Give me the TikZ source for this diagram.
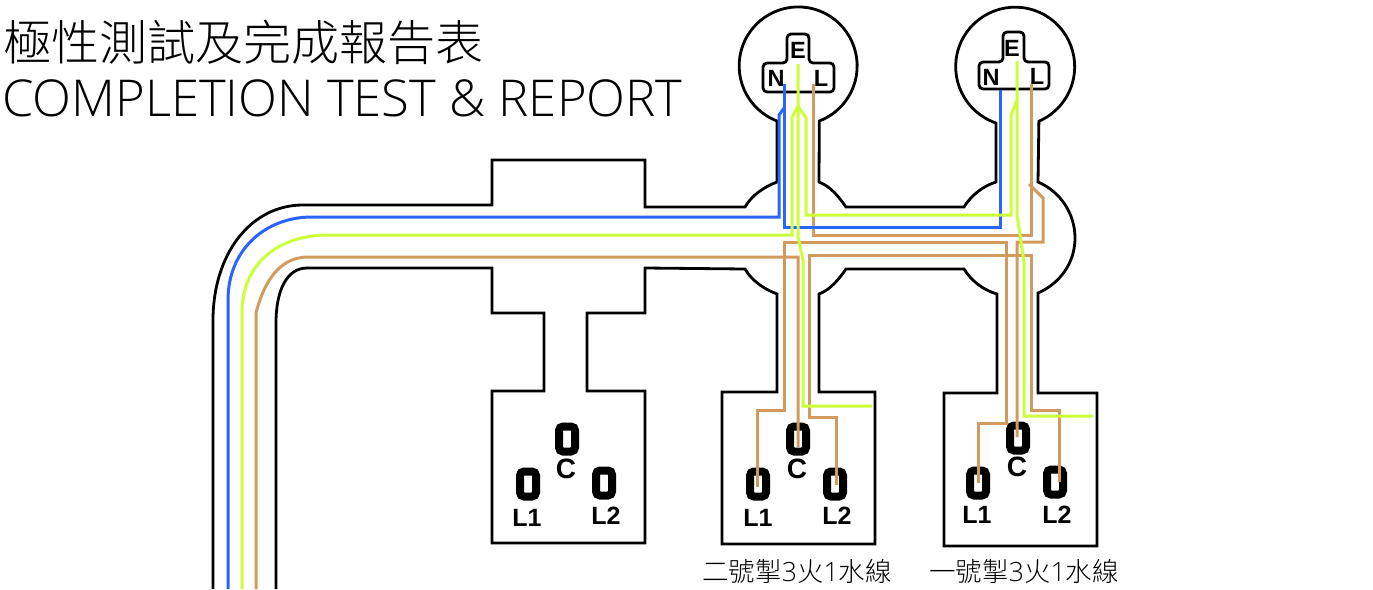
\documentclass[tikz,border=0pt]{standalone}
\usepackage{fontspec}
\setmainfont{Open Sans Light}
\newfontfamily\cjk{Noto Sans CJK TC Light}
\newfontfamily\lat{Open Sans Light}
\newfontfamily\lab[BoldFont={Liberation Sans Bold}]{Liberation Sans}
\definecolor{wblue}{HTML}{2A64FF}
\definecolor{wgreen}{HTML}{CBFF3A}
\definecolor{wbrown}{HTML}{D39A5E}
\tikzset{
  outline/.style={draw=black,line width=2.8pt,line join=miter},
  wire/.style={line width=3pt,line join=miter},
  nwire/.style={wire,draw=wblue},
  ewire/.style={wire,draw=wgreen},
  lwire/.style={wire,draw=wbrown},
  contact/.style={draw=black,line width=8pt,fill=white,rounded corners=4pt,minimum width=16pt,minimum height=25pt,inner sep=0pt,anchor=center},
  pin/.style={font=\lab\fontsize{25}{25}\selectfont\bfseries,inner sep=0pt,anchor=center},
  pinc/.style={font=\lab\fontsize{28}{28}\selectfont\bfseries,inner sep=0pt,anchor=center},
  term/.style={font=\lab\fontsize{23.5}{24}\selectfont\bfseries,inner sep=0pt,anchor=center},
  titlecjk/.style={font=\cjk\fontsize{48}{50}\selectfont,inner sep=0pt,anchor=west},
  titlelat/.style={font=\lat\fontsize{50.8}{54}\selectfont,inner sep=0pt,anchor=west},
  caption/.style={font=\fontsize{26.5}{28}\selectfont,inner sep=0pt,anchor=center}
}
\begin{document}
\begin{tikzpicture}[x=1pt,y=-1pt]
\useasboundingbox (0,0) rectangle (1373,589);
% body outline
\draw[outline] (213,589) -- (213,320) .. controls (213,255) and (250,205) .. (303,205)
 -- (492,205) -- (492,160) -- (645,160) -- (645,207) -- (745,207)
 .. controls (752,195) and (764,187) .. (777,182) -- (777,121)
 arc[start angle=111,end angle=429,radius=59] -- (819,182)
 .. controls (830.5,186.3) and (839,197) .. (846,207) -- (964,207)
 .. controls (971,195.5) and (983,186) .. (996,182) -- (996,123)
 arc[start angle=108.8,end angle=426.5,radius=59.5] -- (1038,182)
 .. controls (1060.4,191.6) and (1075,213.6) .. (1075,238)
 .. controls (1075,262.4) and (1060.4,283.2) .. (1038,293)
 -- (1038,393) -- (1097,393) -- (1097,546) -- (944,546) -- (944,393) -- (997,393) -- (997,294)
 .. controls (983,290) and (971,280.5) .. (964,269) -- (846,269)
 .. controls (839,279) and (830.5,289.7) .. (819,294)
 -- (819,392) -- (875,392) -- (875,544) -- (722,544) -- (722,392) -- (777,392) -- (777,294)
 .. controls (764,289) and (752,281) .. (745,269) -- (645,268) -- (645,313) -- (587,313) -- (587,391)
 -- (645,391) -- (645,543) -- (492,543) -- (492,391) -- (544,391) -- (544,313) -- (492,313) -- (492,268)
 -- (307,268) .. controls (287,268) and (276,290) .. (276,323) -- (276,589);
% terminal blocks
\draw[outline,rounded corners=4pt] (787,63) -- (787,34) -- (809,34) -- (809,63) -- (834,63) -- (834,92) -- (763,92) -- (763,63) -- cycle;
\draw[outline,rounded corners=4pt] (1003,62) -- (1003,32) -- (1024,32) -- (1024,62) -- (1049,62) -- (1049,89) -- (979,89) -- (979,62) -- cycle;
\node[term] (e2) at (798,50) {E};
\node[term] (n2) at (776,78) {N};
\node[term] (l2) at (821,78) {L};
\node[term] (e1) at (1012,48) {E};
\node[term] (n1) at (991,77) {N};
\node[term] (l1) at (1037,76) {L};
% contacts
\node[contact] (c0) at (567,439) {};
\node[contact] (a0) at (528,484) {};
\node[contact] (b0) at (604,483) {};
\node[contact] (c2) at (798,439) {};
\node[contact] (a2) at (758,484) {};
\node[contact] (b2) at (835,484) {};
\node[contact] (c1) at (1018,438) {};
\node[contact] (a1) at (978,483) {};
\node[contact] (b1) at (1055,482) {};
\node[pinc] (tc0) at (566,469) {C};
\node[pin] (ta0) at (527,518) {L1};
\node[pin] (tb0) at (606,516) {L2};
\node[pinc] (tc2) at (797,469) {C};
\node[pin] (ta2) at (758,518) {L1};
\node[pin] (tb2) at (837,516) {L2};
\node[pinc] (tc1) at (1017,467) {C};
\node[pin] (ta1) at (977,515) {L1};
\node[pin] (tb1) at (1057,515) {L2};
% brown wires
\draw[lwire] (256,589) -- (256,313) .. controls (262,290) and (275,257) .. (308,257) -- (798,257) -- (798,447);
\draw[lwire] (813,84) -- (813,235) -- (1031,235) -- (1031,84);
\draw[lwire] (1029,184) -- (1043,198) -- (1043,242) -- (1017,242) -- (1017,437);
\draw[lwire] (757,487) -- (757,410) -- (784,410) -- (784,242) -- (1006,242) -- (1006,423) -- (978,423) -- (978,483);
\draw[lwire] (836,485) -- (836,417) -- (809,417) -- (809,255) -- (1031,255) -- (1031,410) -- (1059,410) -- (1059,482);
% blue wires
\draw[nwire] (228,589) -- (228,300) .. controls (228,250) and (265,217) .. (312,217) -- (779,217) -- (779,115) -- (784,108);
\draw[nwire] (784,84) -- (784,227) -- (1000,227) -- (1000,90);
% green wires
\draw[ewire] (242,589) -- (242,313) .. controls (242,262) and (280,235) .. (328,235) -- (792,235) -- (792,118) -- (798,106) -- (806,118) -- (806,215) -- (1011,215) -- (1011,115) -- (1017,100);
\draw[ewire] (798,64) -- (798,237) -- (803,260) -- (803,406) -- (872,406);
\draw[ewire] (1017,61) -- (1017,215) -- (1024,262) -- (1024,416) -- (1093,416);
% texts
\node[titlecjk] (t1) at (3,42) {極性測試及完成報告表};
\node[titlelat] (t2) at (2,98) {COMPLETION TEST \& REPORT};
\node[caption] (cap2) at (797,571) {\cjk 二號掣\lat 3\cjk 火\lat 1\cjk 水線};
\node[caption] (cap1) at (1024,571) {\cjk 一號掣\lat 3\cjk 火\lat 1\cjk 水線};
\end{tikzpicture}
\end{document}
